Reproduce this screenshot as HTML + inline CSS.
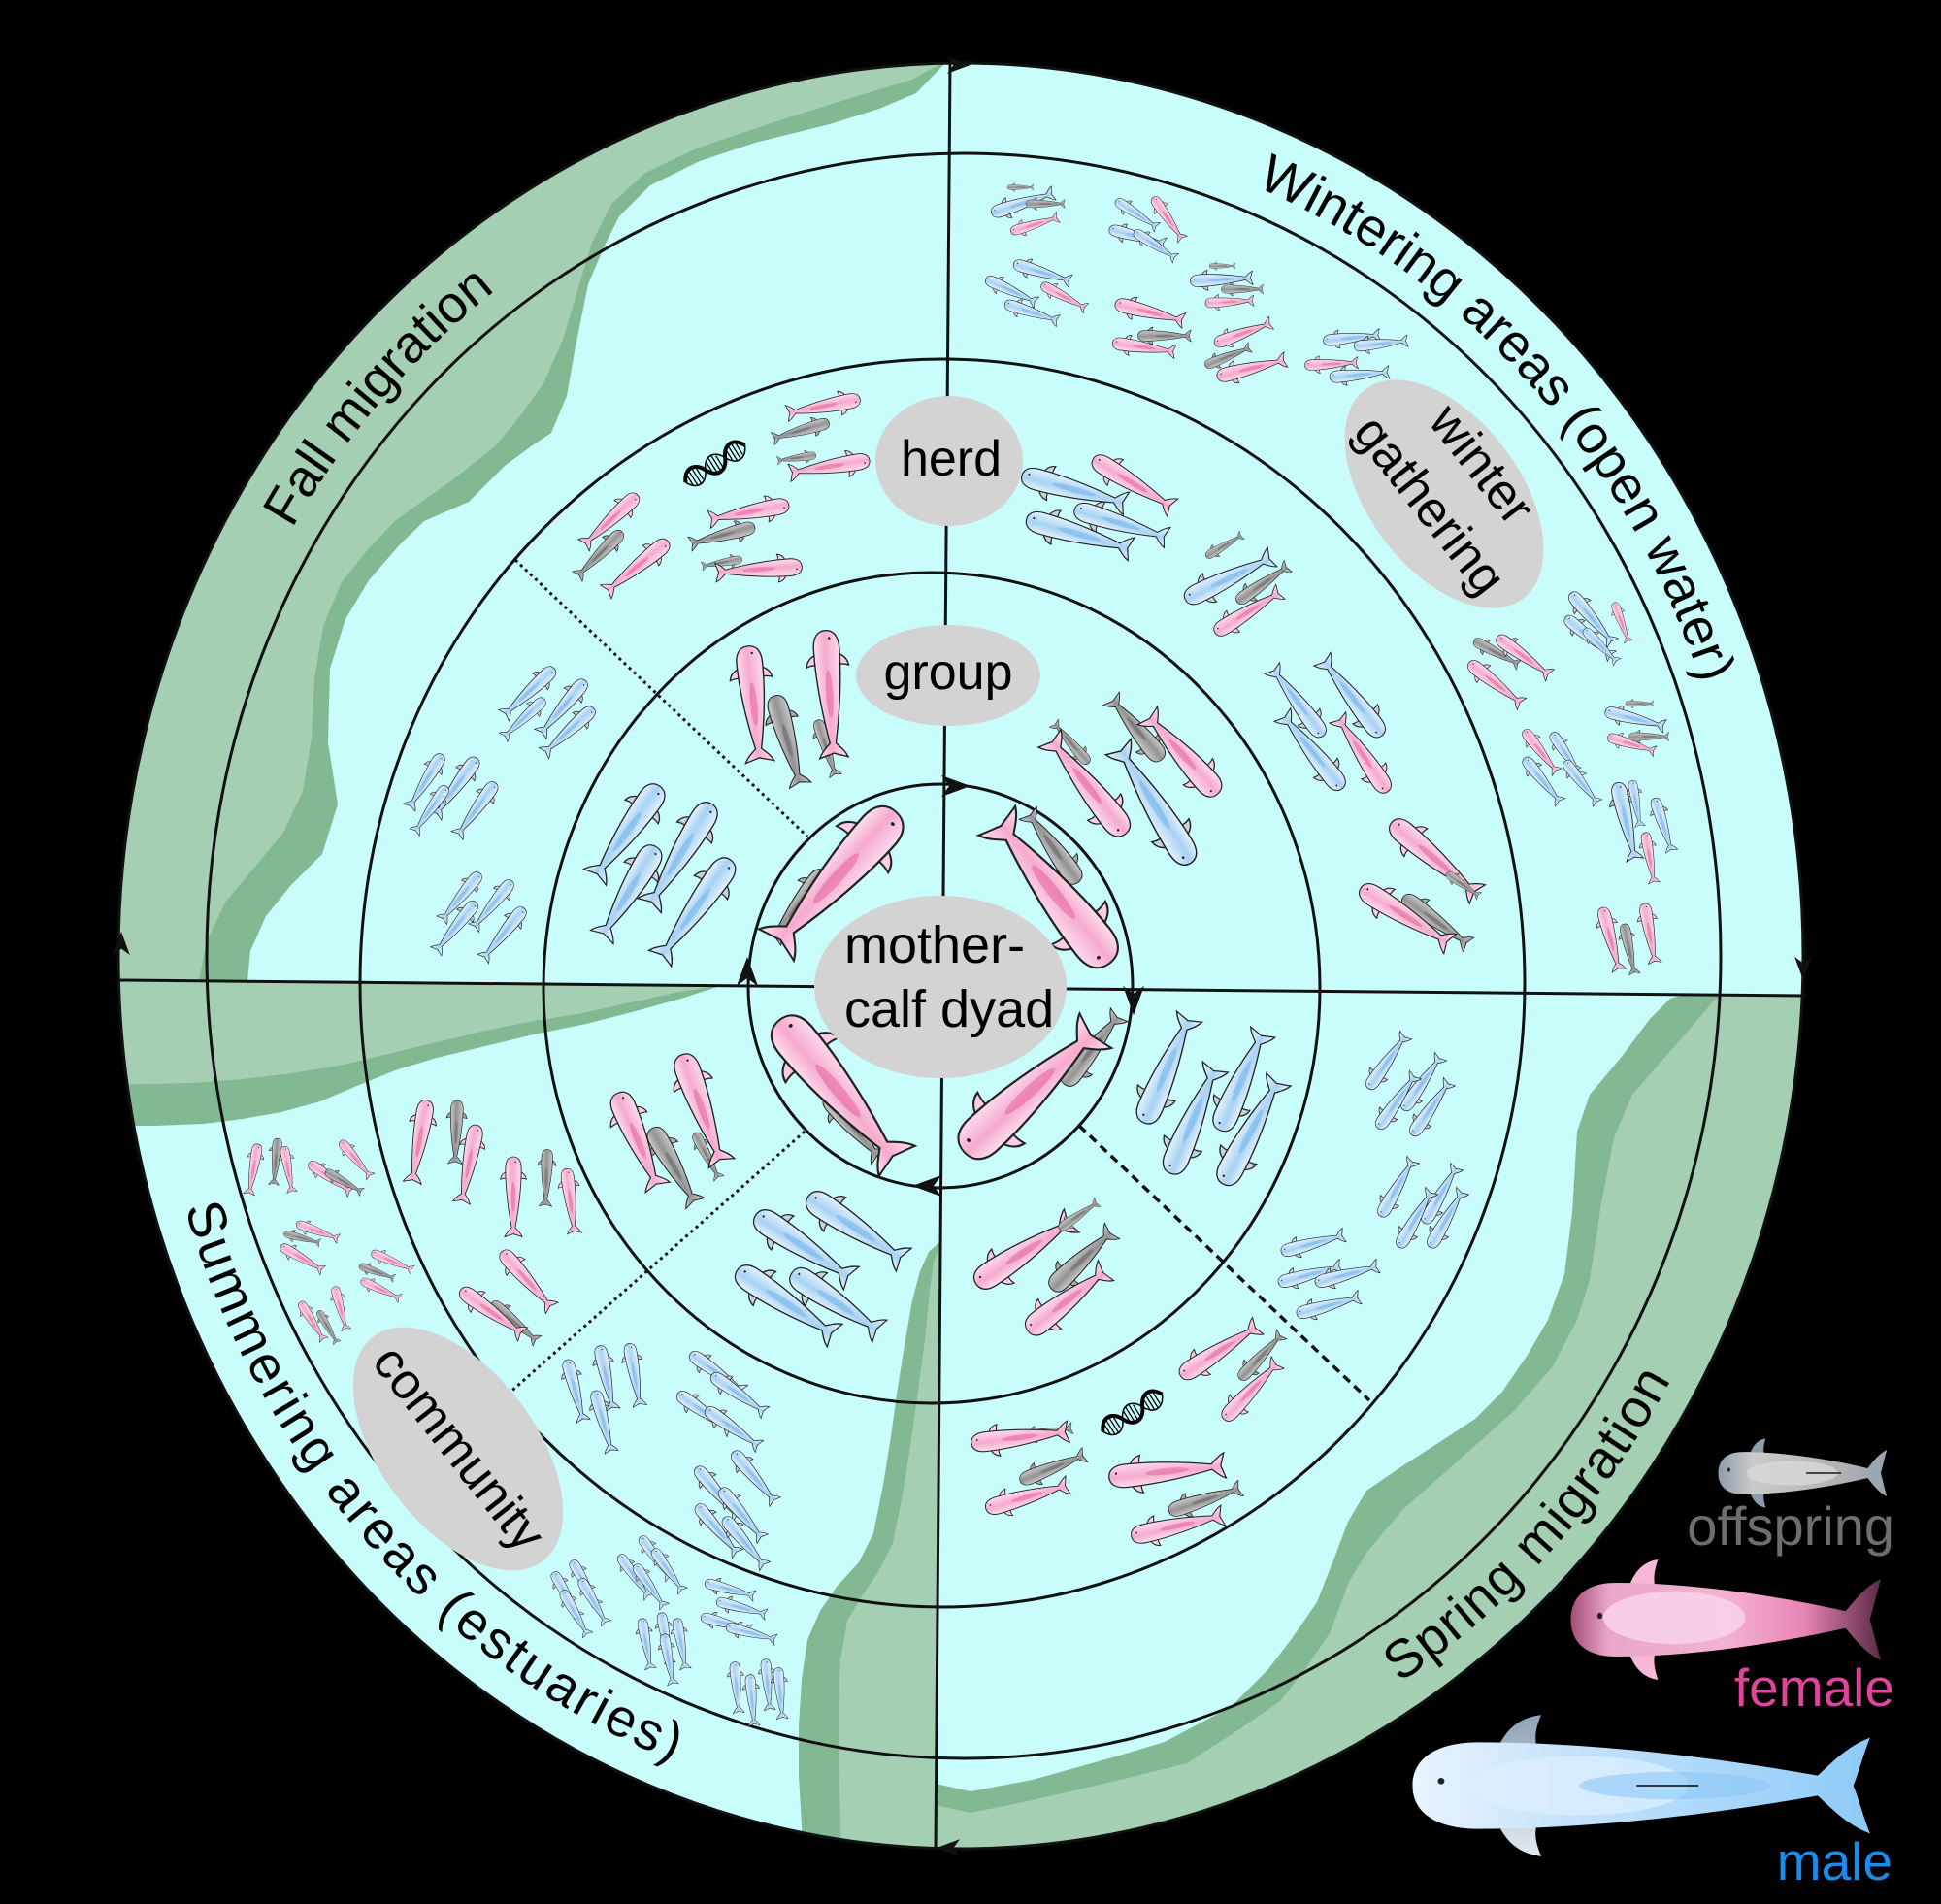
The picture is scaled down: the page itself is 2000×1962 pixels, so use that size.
<!DOCTYPE html>
<html><head><meta charset="utf-8"><style>
html,body{margin:0;padding:0;background:#000;}
svg{display:block;font-family:"Liberation Sans","DejaVu Sans",sans-serif;}
</style></head><body>
<svg width="2000" height="1962" viewBox="0 0 2000 1962" xmlns="http://www.w3.org/2000/svg">
<defs>
<clipPath id="oc"><ellipse cx="990" cy="985" rx="868" ry="920"/></clipPath>
<linearGradient id="gM" x1="0" y1="0" x2="0" y2="1"><stop offset="0" stop-color="#e8f5fe"/><stop offset=".55" stop-color="#a8d2f3"/><stop offset="1" stop-color="#eef7fe"/></linearGradient>
<linearGradient id="gF" x1="0" y1="0" x2="0" y2="1"><stop offset="0" stop-color="#fde0ee"/><stop offset=".55" stop-color="#f5aacd"/><stop offset="1" stop-color="#fde6f1"/></linearGradient>
<linearGradient id="gC" x1="0" y1="0" x2="0" y2="1"><stop offset="0" stop-color="#cdcdcd"/><stop offset=".55" stop-color="#939393"/><stop offset="1" stop-color="#d3d3d3"/></linearGradient>
<linearGradient id="lC" x1="0" y1="0" x2="1" y2="0"><stop offset="0" stop-color="#8d9cab"/><stop offset=".2" stop-color="#cacaca"/><stop offset=".7" stop-color="#b3b3b3"/><stop offset="1" stop-color="#95a3b0"/></linearGradient>
<linearGradient id="lF" x1="0" y1="0" x2="1" y2="0"><stop offset="0" stop-color="#a24b78"/><stop offset=".12" stop-color="#e9a6c8"/><stop offset=".5" stop-color="#f4b2d2"/><stop offset=".75" stop-color="#e985b7"/><stop offset="1" stop-color="#5a2a45"/></linearGradient>
<linearGradient id="lM" x1="0" y1="0" x2="1" y2="0"><stop offset="0" stop-color="#e9f4ff"/><stop offset=".35" stop-color="#c5e2fb"/><stop offset=".7" stop-color="#a8d6fb"/><stop offset="1" stop-color="#8ecbf8"/></linearGradient>
<linearGradient id="lFin" x1="0" y1="0" x2="0" y2="1"><stop offset="0" stop-color="#8fa4b8"/><stop offset="1" stop-color="#e0e8ef"/></linearGradient>
<path id="body" d="M-50,0 C-50,-6 -45,-9.5 -36,-9.5 C-14,-9.5 12,-6.5 35,-2.2 C38,-5 41,-8.5 46,-10.5 C44.5,-6.5 43.5,-2.5 42.5,0 C43.5,2.5 44.5,6.5 46,10.5 C41,8.5 38,5 35,2.2 C12,6.5 -14,9.5 -36,9.5 C-45,9.5 -50,6 -50,0 Z"/>
<path id="fins" d="M-32,-8.5 C-30,-13 -27,-15 -23,-15.5 C-24,-13 -24.5,-11 -24,-8.8 Z M-32,8.5 C-30,13 -27,15 -23,15.5 C-24,13 -24.5,11 -24,8.8 Z"/>
<g id="M"><use href="#fins" fill="#c6d3de" stroke="#222" stroke-width="1" vector-effect="non-scaling-stroke"/><use href="#body" fill="url(#gM)" stroke="#222" stroke-width="1" vector-effect="non-scaling-stroke"/><ellipse cx="-2" cy="0" rx="20" ry="2.6" fill="#6fb2ea" opacity=".5"/><circle cx="-44" cy="-2.5" r="0.9" fill="#222"/></g>
<g id="F"><use href="#fins" fill="#f8cfe2" stroke="#222" stroke-width="1" vector-effect="non-scaling-stroke"/><use href="#body" fill="url(#gF)" stroke="#222" stroke-width="1" vector-effect="non-scaling-stroke"/><ellipse cx="-2" cy="0" rx="18" ry="2.6" fill="#e45d98" opacity=".5"/><circle cx="-44" cy="-2.5" r="0.9" fill="#222"/></g>
<g id="C"><use href="#fins" fill="#ababab" stroke="#222" stroke-width="1" vector-effect="non-scaling-stroke"/><use href="#body" fill="url(#gC)" stroke="#222" stroke-width="1" vector-effect="non-scaling-stroke"/><ellipse cx="-2" cy="0" rx="18" ry="2.4" fill="#5c5c5c" opacity=".45"/></g>
<path id="arr" d="M0,0 L-30,-11 L-22,0 L-30,11 Z"/>
<g id="dna" fill="none" stroke="#000">
<path d="M-36,0 C-30,-13 -18,-13 -12,0 S6,13 12,0 S30,-13 36,0" stroke-width="4"/>
<path d="M-36,0 C-30,13 -18,13 -12,0 S6,-13 12,0 S30,13 36,0" stroke-width="1.6"/>
<path d="M-31,-7 V7 M-27,-9 V9 M-23,-9 V9 M-19,-7 V7 M-7,-7 V7 M-3,-9 V9 M1,-9 V9 M5,-7 V7 M17,-7 V7 M21,-9 V9 M25,-9 V9 M29,-7 V7" stroke-width="1.3"/>
</g>
</defs>

<ellipse cx="990" cy="985" rx="868" ry="920" fill="#c8fdfc"/>

<g clip-path="url(#oc)">
<path fill="#82b992" d="M979,60 L944,96 L906,112 L855,128 L778,147 L721,166 L670,191 L638,223 L622,255 L606,293 L593,357 L584,408 L568,446 L550,458 L520,480 L483,517 L437,537 L413,560 L380,598 L356,638 L340,689 L338,765 L348,829 L332,880 L300,912 L274,944 L258,980 L255,1011 L0,1009 L0,0 L979,0 Z"/>
<path fill="#a4cfb2" d="M979,60 L940,82 L880,100 L800,125 L720,152 L665,178 L630,210 L610,250 L595,300 L580,350 L560,395 L535,430 L510,460 L463,497 L430,520 L407,537 L380,565 L352,600 L333,645 L324,700 L321,760 L312,815 L292,858 L262,894 L232,930 L213,970 L205,1010 L0,1009 L0,0 L979,0 Z"/>
<path fill="#82b992" d="M0,1008 L745,1015 L705,1028 L655,1042 L604,1055 L550,1066 L500,1078 L450,1090 L410,1102 L370,1118 L330,1135 L290,1146 L250,1153 L210,1158 L160,1160 L0,1160 Z"/>
<path fill="#a4cfb2" d="M0,1008 L745,1015 L700,1022 L650,1033 L600,1044 L550,1052 L500,1062 L450,1074 L400,1086 L350,1098 L300,1106 L250,1112 L200,1116 L0,1120 Z"/>
<path fill="#82b992" d="M969,1279 L957,1290 L948,1310 L940,1340 L933,1380 L925,1430 L918,1480 L910,1530 L900,1580 L885,1610 L862,1635 L845,1660 L832,1690 L826,1730 L823,1780 L823,1830 L826,1880 L829,1962 L963,1962 Z"/>
<path fill="#a4cfb2" d="M969,1283 L962,1300 L958,1330 L953,1380 L945,1440 L938,1490 L930,1540 L920,1590 L905,1620 L888,1645 L873,1670 L866,1710 L864,1760 L864,1820 L866,1870 L868,1962 L963,1962 Z"/>
<path fill="#82b992" d="M964,1838 L1000,1846 L1064,1834 L1150,1810 L1200,1795 L1268,1759 L1306,1721 L1330,1690 L1357,1651 L1375,1605 L1389,1568 L1408,1536 L1446,1510 L1485,1485 L1520,1462 L1548,1434 L1574,1396 L1595,1360 L1612,1313 L1620,1250 L1625,1166 L1638,1128 L1670,1090 L1700,1050 L1721,1029 L1735,1025 L2000,1028 L2000,1962 L964,1962 Z"/>
<path fill="#a4cfb2" d="M964,1860 L1000,1868 L1064,1855 L1150,1835 L1223,1817 L1280,1780 L1319,1753 L1345,1720 L1370,1683 L1390,1630 L1408,1600 L1446,1555 L1497,1510 L1561,1453 L1600,1408 L1625,1360 L1638,1319 L1650,1240 L1663,1172 L1682,1128 L1721,1083 L1750,1050 L1765,1032 L1775,1026 L2000,1028 L2000,1962 L964,1962 Z"/>
</g>

<g fill="none" stroke="#111" stroke-width="3">
<ellipse cx="990" cy="985" rx="868" ry="920"/>
<ellipse cx="993" cy="985" rx="780" ry="827"/>
<ellipse cx="971" cy="1013" rx="600" ry="643"/>
<ellipse cx="960" cy="1018" rx="400" ry="428"/>
<ellipse cx="969" cy="1016" rx="198" ry="208"/>
<line x1="979" y1="64" x2="964" y2="1905"/>
<line x1="121" y1="1010" x2="1861" y2="1026"/>
<line x1="531" y1="577" x2="832" y2="862" stroke-dasharray="3 4"/>
<line x1="523" y1="1437" x2="829" y2="1166" stroke-dasharray="3 4"/>
<line x1="1112" y1="1160" x2="1411" y2="1443" stroke-width="3.5" stroke-dasharray="9 6"/>
</g>

<g fill="#111">
<use href="#arr" transform="translate(1000 810)"/>
<use href="#arr" transform="translate(1168 1046) rotate(90)"/>
<use href="#arr" transform="translate(940 1222) rotate(180)"/>
<use href="#arr" transform="translate(770 986) rotate(-90)"/>
<use href="#arr" transform="translate(1000 67) scale(.8)"/>
<use href="#arr" transform="translate(1858 1010) rotate(90) scale(.8)"/>
<use href="#arr" transform="translate(965 1904) rotate(180) scale(.8)"/>
<use href="#arr" transform="translate(125 960) rotate(-90) scale(.8)"/>
</g>

<use href="#C" transform="translate(822 934) rotate(128) scale(.92 1.05)"/>
<use href="#F" transform="translate(859 908) rotate(132) scale(1.92 2.3)"/>
<use href="#C" transform="translate(1084 872) rotate(-126) scale(.92 1.05)"/>
<use href="#F" transform="translate(1083 916) rotate(-128.5) scale(1.95 2.3)"/>
<use href="#C" transform="translate(1126 1080) rotate(-51.7) scale(.95 1.05)"/>
<use href="#F" transform="translate(1064 1122) rotate(-42.7) scale(1.92 2.3)"/>
<use href="#C" transform="translate(880 1162) rotate(49.6) scale(.88 1.05)"/>
<use href="#F" transform="translate(866 1127) rotate(50) scale(1.97 2.3)"/>

<use href="#F" transform="translate(777 728) rotate(84) scale(1.25 1.4)"/>
<use href="#C" transform="translate(812 765) rotate(74) scale(1 1.1)"/>
<use href="#C" transform="translate(852 772) rotate(72) scale(.63)"/>
<use href="#F" transform="translate(855 718) rotate(86) scale(1.37 1.4)"/>
<use href="#M" transform="translate(645 859) rotate(125.5) scale(1.2 1.35)"/>
<use href="#M" transform="translate(700 883) rotate(121.6) scale(1.28 1.35)"/>
<use href="#M" transform="translate(647 921) rotate(121) scale(1.13 1.3)"/>
<use href="#M" transform="translate(715 939) rotate(125.6) scale(1.3 1.35)"/>
<use href="#C" transform="translate(695 1203) rotate(60) scale(.93 1.05)"/>
<use href="#F" transform="translate(658 1177) rotate(67) scale(1.1 1.3)"/>
<use href="#C" transform="translate(729 1192) rotate(62) scale(.55)"/>
<use href="#F" transform="translate(724 1145) rotate(70) scale(1.24 1.35)"/>
<use href="#M" transform="translate(830 1286) rotate(33.4) scale(1.23 1.35)"/>
<use href="#M" transform="translate(884 1267) rotate(33.4) scale(1.23 1.35)"/>
<use href="#M" transform="translate(812 1344) rotate(33.7) scale(1.26 1.35)"/>
<use href="#M" transform="translate(863 1343) rotate(33.4) scale(1.13 1.3)"/>
<use href="#C" transform="translate(1116 1297) rotate(-43.6) scale(.9 1.05)"/>
<use href="#F" transform="translate(1057 1289) rotate(-33.4) scale(1.23 1.35)"/>
<use href="#C" transform="translate(1112 1252) rotate(-35) scale(.5)"/>
<use href="#F" transform="translate(1101 1339) rotate(-37.7) scale(1.06 1.25)"/>
<use href="#M" transform="translate(1203 1100) rotate(-66.7) scale(1.24 1.35)"/>
<use href="#M" transform="translate(1280 1112) rotate(-66.3) scale(1.15 1.3)"/>
<use href="#M" transform="translate(1230 1152) rotate(-67) scale(1.24 1.35)"/>
<use href="#M" transform="translate(1290 1164) rotate(-62) scale(1.27 1.35)"/>
<use href="#C" transform="translate(1170 750) rotate(-129.7) scale(.85 1)"/>
<use href="#F" transform="translate(1217 776) rotate(-132) scale(1.13 1.3)"/>
<use href="#C" transform="translate(1103 765) rotate(-131) scale(.57)"/>
<use href="#F" transform="translate(1119 808) rotate(-128.5) scale(1.31 1.4)"/>
<use href="#M" transform="translate(1188 827) rotate(-122) scale(1.47 1.45)"/>

<use href="#F" transform="translate(847 419) rotate(169) scale(.8)"/>
<use href="#C" transform="translate(824 444) rotate(164) scale(.63)"/>
<use href="#C" transform="translate(820 472) rotate(172) scale(.42)"/>
<use href="#F" transform="translate(853 481) rotate(171) scale(.87)"/>
<use href="#F" transform="translate(628 537) rotate(137) scale(.79)"/>
<use href="#C" transform="translate(617 572) rotate(135) scale(.68)"/>
<use href="#F" transform="translate(655 585) rotate(141) scale(.86)"/>
<use href="#F" transform="translate(770 528) rotate(169.6) scale(.87)"/>
<use href="#C" transform="translate(743 552) rotate(165) scale(.72)"/>
<use href="#C" transform="translate(743 580) rotate(170) scale(.44)"/>
<use href="#F" transform="translate(780 587) rotate(176) scale(.93)"/>
<use href="#M" transform="translate(544 714) rotate(137) scale(.74)"/>
<use href="#M" transform="translate(579 730) rotate(130) scale(.75)"/>
<use href="#M" transform="translate(539 741) rotate(137) scale(.6)"/>
<use href="#M" transform="translate(585 754) rotate(138) scale(.72)"/>
<use href="#M" transform="translate(438 806) rotate(121.6) scale(.67)"/>
<use href="#M" transform="translate(469 812) rotate(126) scale(.76)"/>
<use href="#M" transform="translate(443 835) rotate(125) scale(.6)"/>
<use href="#M" transform="translate(490 835) rotate(126) scale(.7)"/>
<use href="#M" transform="translate(474 925) rotate(129) scale(.65)"/>
<use href="#M" transform="translate(507 933) rotate(129) scale(.65)"/>
<use href="#M" transform="translate(469 956) rotate(129) scale(.68)"/>
<use href="#M" transform="translate(518 963) rotate(129) scale(.7)"/>
<use href="#F" transform="translate(432 1178) rotate(100) scale(.9)"/>
<use href="#C" transform="translate(470 1168) rotate(92) scale(.68)"/>
<use href="#F" transform="translate(483 1201) rotate(101) scale(.85)"/>
<use href="#F" transform="translate(529 1235) rotate(90) scale(.86)"/>
<use href="#C" transform="translate(563 1215) rotate(92) scale(.61)"/>
<use href="#F" transform="translate(588 1239) rotate(83) scale(.7)"/>
<use href="#F" transform="translate(544 1320) rotate(48.5) scale(.81)"/>
<use href="#C" transform="translate(531 1363) rotate(40) scale(.64)"/>
<use href="#F" transform="translate(508 1353) rotate(35.6) scale(.82)"/>
<use href="#M" transform="translate(593 1434) rotate(75) scale(.68)"/>
<use href="#M" transform="translate(625 1421) rotate(78) scale(.7)"/>
<use href="#M" transform="translate(654 1418) rotate(80) scale(.68)"/>
<use href="#M" transform="translate(622 1466) rotate(75) scale(.68)"/>
<use href="#M" transform="translate(740 1415) rotate(35) scale(.7)"/>
<use href="#M" transform="translate(762 1437) rotate(35) scale(.7)"/>
<use href="#M" transform="translate(727 1456) rotate(35) scale(.7)"/>
<use href="#M" transform="translate(756 1472) rotate(35) scale(.7)"/>
<use href="#M" transform="translate(778 1523) rotate(50) scale(.7)"/>
<use href="#M" transform="translate(740 1539) rotate(50) scale(.7)"/>
<use href="#M" transform="translate(765 1561) rotate(50) scale(.7)"/>
<use href="#M" transform="translate(740 1577) rotate(50) scale(.68)"/>
<use href="#M" transform="translate(768 1590) rotate(50) scale(.68)"/>
<use href="#F" transform="translate(1258 1391) rotate(-33) scale(.99)"/>
<use href="#C" transform="translate(1300 1397) rotate(-47) scale(.66)"/>
<use href="#F" transform="translate(1290 1432) rotate(-46.5) scale(.84)"/>
<use href="#C" transform="translate(1080 1476) rotate(-10) scale(.55)"/>
<use href="#F" transform="translate(1053 1481) rotate(-7) scale(1.05)"/>
<use href="#C" transform="translate(1086 1512) rotate(-22) scale(.75)"/>
<use href="#F" transform="translate(1060 1542) rotate(-16) scale(.92)"/>
<use href="#C" transform="translate(1243 1545) rotate(-18) scale(.81)"/>
<use href="#F" transform="translate(1205 1516) rotate(-6) scale(1.25)"/>
<use href="#F" transform="translate(1215 1572) rotate(-13) scale(1.01)"/>
<use href="#M" transform="translate(1430 1093) rotate(-55) scale(.7)"/>
<use href="#M" transform="translate(1466 1115) rotate(-55) scale(.7)"/>
<use href="#M" transform="translate(1440 1134) rotate(-55) scale(.7)"/>
<use href="#M" transform="translate(1475 1141) rotate(-55) scale(.7)"/>
<use href="#M" transform="translate(1440 1223) rotate(-60) scale(.7)"/>
<use href="#M" transform="translate(1485 1230) rotate(-60) scale(.7)"/>
<use href="#M" transform="translate(1459 1255) rotate(-60) scale(.7)"/>
<use href="#M" transform="translate(1491 1255) rotate(-60) scale(.7)"/>
<use href="#M" transform="translate(1354 1281) rotate(-15) scale(.7)"/>
<use href="#M" transform="translate(1351 1313) rotate(-15) scale(.7)"/>
<use href="#M" transform="translate(1389 1313) rotate(-15) scale(.7)"/>
<use href="#M" transform="translate(1370 1345) rotate(-15) scale(.7)"/>
<use href="#F" transform="translate(1169 499) rotate(31.5) scale(1)"/>
<use href="#M" transform="translate(1109 505) rotate(15) scale(1.16)"/>
<use href="#M" transform="translate(1157 540) rotate(17) scale(1.04)"/>
<use href="#M" transform="translate(1114 551) rotate(16) scale(1.17)"/>
<use href="#C" transform="translate(1262 562) rotate(-31) scale(.45)"/>
<use href="#M" transform="translate(1268 595) rotate(-26) scale(1.04)"/>
<use href="#C" transform="translate(1302 601) rotate(-35) scale(.67)"/>
<use href="#F" transform="translate(1287 630) rotate(-32) scale(.83)"/>
<use href="#M" transform="translate(1336 722) rotate(-127) scale(.91)"/>
<use href="#M" transform="translate(1392 717) rotate(-128) scale(1.04)"/>
<use href="#M" transform="translate(1351 773) rotate(-129) scale(1.02)"/>
<use href="#F" transform="translate(1403 776) rotate(-124) scale(.96)"/>
<use href="#F" transform="translate(1480 886) rotate(40) scale(1.2)"/>
<use href="#C" transform="translate(1481 950) rotate(36) scale(.87)"/>
<use href="#F" transform="translate(1450 945) rotate(32) scale(1.13)"/>
<use href="#C" transform="translate(1508 912) rotate(35) scale(.43)"/>

<use href="#C" transform="translate(1052 193) rotate(0) scale(.28)"/>
<use href="#M" transform="translate(1055 209) rotate(-18) scale(.7)"/>
<use href="#C" transform="translate(1078 210) rotate(0) scale(.42)"/>
<use href="#F" transform="translate(1067 231) rotate(-17) scale(.53)"/>
<use href="#M" transform="translate(1172 221) rotate(33) scale(.53)"/>
<use href="#F" transform="translate(1204 226) rotate(55) scale(.55)"/>
<use href="#M" transform="translate(1173 244) rotate(15) scale(.62)"/>
<use href="#M" transform="translate(1191 253) rotate(33) scale(.53)"/>
<use href="#M" transform="translate(1075 281) rotate(17) scale(.64)"/>
<use href="#M" transform="translate(1043 300) rotate(25) scale(.6)"/>
<use href="#F" transform="translate(1097 306) rotate(28) scale(.54)"/>
<use href="#M" transform="translate(1064 322) rotate(18) scale(.6)"/>
<use href="#F" transform="translate(1186 322) rotate(14) scale(.76)"/>
<use href="#C" transform="translate(1201 346) rotate(0) scale(.57)"/>
<use href="#F" transform="translate(1180 358) rotate(8) scale(.68)"/>
<use href="#C" transform="translate(1260 274) rotate(0) scale(.28)"/>
<use href="#M" transform="translate(1260 288) rotate(-3) scale(.67)"/>
<use href="#C" transform="translate(1281 298) rotate(0) scale(.45)"/>
<use href="#F" transform="translate(1268 311) rotate(-3) scale(.52)"/>
<use href="#F" transform="translate(1282 343) rotate(-20) scale(.65)"/>
<use href="#C" transform="translate(1266 367) rotate(-22) scale(.52)"/>
<use href="#F" transform="translate(1291 379) rotate(-14) scale(.76)"/>
<use href="#M" transform="translate(1394 348) rotate(-6) scale(.61)"/>
<use href="#M" transform="translate(1424 354) rotate(-6) scale(.58)"/>
<use href="#F" transform="translate(1373 375) rotate(-3) scale(.57)"/>
<use href="#M" transform="translate(1402 386) rotate(-5) scale(.64)"/>
<use href="#M" transform="translate(1641 638) rotate(50) scale(.7)"/>
<use href="#M" transform="translate(1638 657) rotate(40) scale(.65)"/>
<use href="#F" transform="translate(1671 642) rotate(70) scale(.45)"/>
<use href="#M" transform="translate(1650 666) rotate(45) scale(.5)"/>
<use href="#C" transform="translate(1543 673) rotate(28) scale(.55)"/>
<use href="#F" transform="translate(1571 677) rotate(36) scale(.7)"/>
<use href="#F" transform="translate(1542 705) rotate(38) scale(.72)"/>
<use href="#C" transform="translate(1690 725) rotate(0) scale(.3)"/>
<use href="#M" transform="translate(1686 741) rotate(14) scale(.66)"/>
<use href="#C" transform="translate(1700 759) rotate(0) scale(.43)"/>
<use href="#F" transform="translate(1682 767) rotate(17) scale(.53)"/>
<use href="#F" transform="translate(1588 775) rotate(52) scale(.57)"/>
<use href="#M" transform="translate(1615 779) rotate(56) scale(.57)"/>
<use href="#M" transform="translate(1590 805) rotate(51) scale(.61)"/>
<use href="#M" transform="translate(1630 807) rotate(52) scale(.57)"/>
<use href="#M" transform="translate(1676 848) rotate(77) scale(.85)"/>
<use href="#M" transform="translate(1686 829) rotate(80) scale(.5)"/>
<use href="#F" transform="translate(1700 885) rotate(80) scale(.55)"/>
<use href="#M" transform="translate(1714 851) rotate(72) scale(.6)"/>
<use href="#F" transform="translate(1660 969) rotate(75) scale(.7)"/>
<use href="#C" transform="translate(1679 979) rotate(78) scale(.55)"/>
<use href="#F" transform="translate(1700 963) rotate(80) scale(.65)"/>

<use href="#F" transform="translate(261 1206) rotate(100) scale(.55)"/>
<use href="#C" transform="translate(284 1198) rotate(95) scale(.5)"/>
<use href="#F" transform="translate(297 1206) rotate(80) scale(.5)"/>
<use href="#F" transform="translate(341 1214) rotate(35) scale(.55)"/>
<use href="#C" transform="translate(355 1218) rotate(30) scale(.45)"/>
<use href="#F" transform="translate(367 1195) rotate(50) scale(.5)"/>
<use href="#F" transform="translate(328 1269) rotate(20) scale(.48)"/>
<use href="#C" transform="translate(312 1276) rotate(15) scale(.4)"/>
<use href="#F" transform="translate(312 1297) rotate(30) scale(.52)"/>
<use href="#F" transform="translate(405 1300) rotate(23) scale(.48)"/>
<use href="#C" transform="translate(389 1311) rotate(20) scale(.4)"/>
<use href="#F" transform="translate(393 1329) rotate(25) scale(.46)"/>
<use href="#F" transform="translate(322 1362) rotate(58) scale(.48)"/>
<use href="#F" transform="translate(351 1349) rotate(75) scale(.48)"/>
<use href="#C" transform="translate(338 1368) rotate(60) scale(.4)"/>
<use href="#M" transform="translate(584 1644) rotate(60) scale(.55)"/>
<use href="#M" transform="translate(603 1632) rotate(60) scale(.55)"/>
<use href="#M" transform="translate(593 1663) rotate(60) scale(.55)"/>
<use href="#M" transform="translate(612 1651) rotate(60) scale(.55)"/>
<use href="#M" transform="translate(654 1625) rotate(55) scale(.55)"/>
<use href="#M" transform="translate(676 1606) rotate(55) scale(.55)"/>
<use href="#M" transform="translate(670 1635) rotate(55) scale(.55)"/>
<use href="#M" transform="translate(689 1619) rotate(55) scale(.55)"/>
<use href="#M" transform="translate(753 1638) rotate(15) scale(.55)"/>
<use href="#M" transform="translate(765 1657) rotate(15) scale(.55)"/>
<use href="#M" transform="translate(749 1673) rotate(15) scale(.55)"/>
<use href="#M" transform="translate(775 1683) rotate(15) scale(.55)"/>
<use href="#M" transform="translate(666 1695) rotate(80) scale(.55)"/>
<use href="#M" transform="translate(686 1689) rotate(80) scale(.55)"/>
<use href="#M" transform="translate(702 1695) rotate(80) scale(.55)"/>
<use href="#M" transform="translate(689 1711) rotate(80) scale(.55)"/>
<use href="#M" transform="translate(759 1740) rotate(85) scale(.55)"/>
<use href="#M" transform="translate(775 1753) rotate(85) scale(.55)"/>
<use href="#M" transform="translate(791 1737) rotate(85) scale(.55)"/>
<use href="#M" transform="translate(804 1746) rotate(85) scale(.55)"/>

<use href="#dna" transform="translate(737 478) rotate(-32)"/>
<use href="#dna" transform="translate(1167 1456) rotate(-32)"/>

<g fill="#d3d3d3">
<ellipse cx="978" cy="475" rx="76" ry="67"/>
<ellipse cx="977" cy="696" rx="95" ry="52"/>
<ellipse cx="969" cy="1017" rx="130" ry="94"/>
<ellipse cx="0" cy="0" rx="135" ry="78" transform="translate(1488 509) rotate(53)"/>
<ellipse cx="0" cy="0" rx="145" ry="80" transform="translate(472 1493) rotate(53)"/>
</g>
<g fill="#000" font-size="52" text-anchor="middle">
<text x="980" y="490">herd</text>
<text x="977" y="710">group</text>
<g transform="translate(1488 509) rotate(52)"><text x="0" y="-32">winter</text><text x="0" y="36">gathering</text></g>
<g transform="translate(472 1493) rotate(52)"><text x="0" y="16">community</text></g>
</g>
<g fill="#000" font-size="54">
<text x="870" y="992">mother-</text>
<text x="870" y="1058">calf dyad</text>
</g>

<path id="pFall" d="M301.1,544.6 A806,855 0 0 1 1395,244.6" fill="none"/>
<path id="pWin" d="M1294,192.3 A806,855 0 0 1 1690,1412.5" fill="none"/>
<path id="pSpr" d="M1442.3,1734 A838,888 0 0 0 1817.3,830.8" fill="none"/>
<path id="pSum" d="M190.6,1244.6 A838,888 0 0 0 1411,1754" fill="none"/>
<g fill="#000">
<text font-size="54"><textPath href="#pFall">Fall migration</textPath></text>
<text font-size="55"><textPath href="#pWin">Wintering areas (open water)</textPath></text>
<text font-size="55" letter-spacing="1.5"><textPath href="#pSpr">Spring migration</textPath></text>
<text font-size="55" letter-spacing="3"><textPath href="#pSum">Summering areas (estuaries)</textPath></text>
</g>

<g transform="translate(1861 1518) scale(1.81 2.3)">
<use href="#fins" fill="#8d9cab"/>
<use href="#body" fill="url(#lC)"/>
<ellipse cx="-8" cy="0" rx="26" ry="5.5" fill="#d8d8d8" opacity=".8"/>
<path d="M0,0 H20" stroke="#333" stroke-width=".8"/>
<circle cx="-44" cy="-1.5" r="0.9" fill="#222"/>
</g>
<g transform="translate(1785 1669) scale(3.33 4)">
<use href="#fins" fill="#f7b8d5"/>
<use href="#body" fill="url(#lF)"/>
<ellipse cx="-18" cy="-0.5" rx="22" ry="6.8" fill="#f9d4e8" opacity=".85"/>
<circle cx="-41" cy="-1" r="0.8" fill="#222"/>
</g>
<g transform="translate(1701 1840) scale(4.91 4.7)">
<use href="#fins" fill="url(#lFin)"/>
<use href="#body" fill="url(#lM)"/>
<ellipse cx="-15" cy="0" rx="23" ry="6.5" fill="#dff0ff" opacity=".7"/>
<ellipse cx="5" cy="0" rx="20" ry="3" fill="#8cc8f7" opacity=".6"/>
<path d="M-3,0 H10" stroke="#222" stroke-width=".35"/>
<circle cx="-44" cy="-1" r="0.7" fill="#222"/>
</g>
<text x="1952" y="1592" text-anchor="end" font-size="56" fill="#6e6e6e">offspring</text>
<text x="1952" y="1758" text-anchor="end" font-size="55" fill="#e0449b">female</text>
<text x="1950" y="1937" text-anchor="end" font-size="55" fill="#1a8cec">male</text>
</svg>
</body></html>
